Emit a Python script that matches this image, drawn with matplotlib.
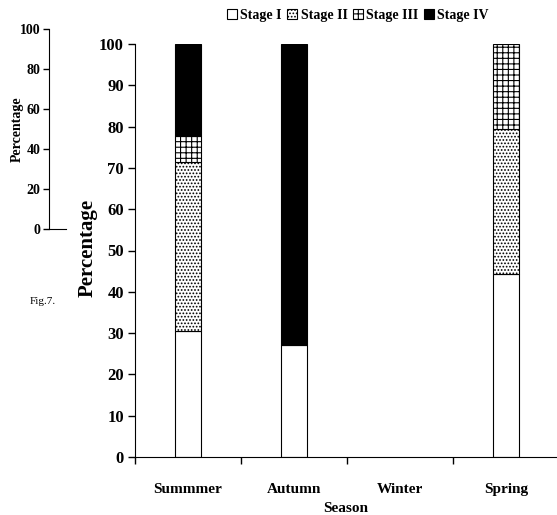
import matplotlib
matplotlib.use('Agg')
import matplotlib.pyplot as plt
from matplotlib.patches import Patch
import numpy as np

seasons = ['Summmer', 'Autumn', 'Winter', 'Spring']
stages = ['Stage I', 'Stage II', 'Stage III', 'Stage IV']
stage1 = [30.5, 27, 0, 44.3]
stage2 = [41, 0, 0, 35]
stage3 = [6.3, 0, 0, 20.7]
stage4 = [22.2, 73, 0, 0]

old_ticks = [0, 20, 40, 60, 80, 100]

plt.rcParams['font.family'] = ['Liberation Serif', 'DejaVu Serif']
plt.rcParams['hatch.linewidth'] = 0.8

fig = plt.figure(figsize=[5.57, 5.15], dpi=100)

# leftover small axis from the original figure
ax0 = fig.add_axes([49 / 557, 286 / 515, 17 / 557, 200 / 515])
ax0.set_ylim(0, 100)
ax0.set_xlim(0, 1)
ax0.set_yticks(old_ticks)
ax0.set_yticklabels([str(t) for t in old_ticks], fontsize=10, fontweight='bold')
ax0.set_xticks([])
ax0.spines['top'].set_visible(False)
ax0.spines['right'].set_visible(False)
ax0.tick_params(axis='y', length=4, width=1, pad=2)
ax0.set_ylabel('Percentage', fontsize=10, fontweight='bold')
ax0.yaxis.set_label_coords(-1.5, 0.5)
ax0.patch.set_alpha(0)

fig.text(30 / 557, 1 - 302 / 515, 'Fig.7.', fontsize=8, va='center')

ax = fig.add_axes([135 / 557, 58 / 515, 422 / 557, 413 / 515])
x = np.arange(len(seasons))
w = 0.25
data = [stage1, stage2, stage3, stage4]
faces = ['white', 'white', 'white', 'black']
hatches = [None, '.....', '+++', None]
bottom = np.zeros(len(seasons))
for vals, fc, h in zip(data, faces, hatches):
    vals = np.array(vals)
    keep = vals > 0
    ax.bar(x[keep], vals[keep], w, bottom=bottom[keep], color=fc, edgecolor='black',
           hatch=h, linewidth=0.8)
    bottom += vals

ax.set_xlim(-0.5, 3.48)
ax.set_ylim(0, 100)
ax.set_yticks(range(0, 101, 10))
ax.set_yticklabels([str(t) for t in range(0, 101, 10)], fontsize=12, fontweight='bold')
ax.set_xticks(x)
ax.set_xticklabels(seasons, fontsize=11, fontweight='bold')
ax.set_xticks([-0.5, 0.5, 1.5, 2.5], minor=True)
ax.tick_params(axis='x', which='major', length=0, pad=19)
ax.tick_params(axis='x', which='minor', length=5, width=1)
ax.tick_params(axis='y', length=5, width=1, pad=3)
ax.spines['top'].set_visible(False)
ax.spines['right'].set_visible(False)
ax.set_xlabel('Season', fontsize=11, fontweight='bold')
ax.xaxis.set_label_coords(0.5, -0.108)
ax.set_ylabel('Percentage', fontsize=15, fontweight='bold')
ax.yaxis.set_label_coords(-0.088, 0.506)

handles = [Patch(facecolor=fc, edgecolor='black', hatch=h, linewidth=0.8)
           for fc, h in zip(faces, hatches)]
fig.legend(handles, stages, loc='center', bbox_to_anchor=(358 / 557, 1 - 15 / 515), ncol=4,
           frameon=False, prop={'weight': 'bold', 'size': 10}, handlelength=0.7,
           handleheight=0.7, handletextpad=0.25, columnspacing=0.4)

plt.savefig('out.png', dpi=100)
